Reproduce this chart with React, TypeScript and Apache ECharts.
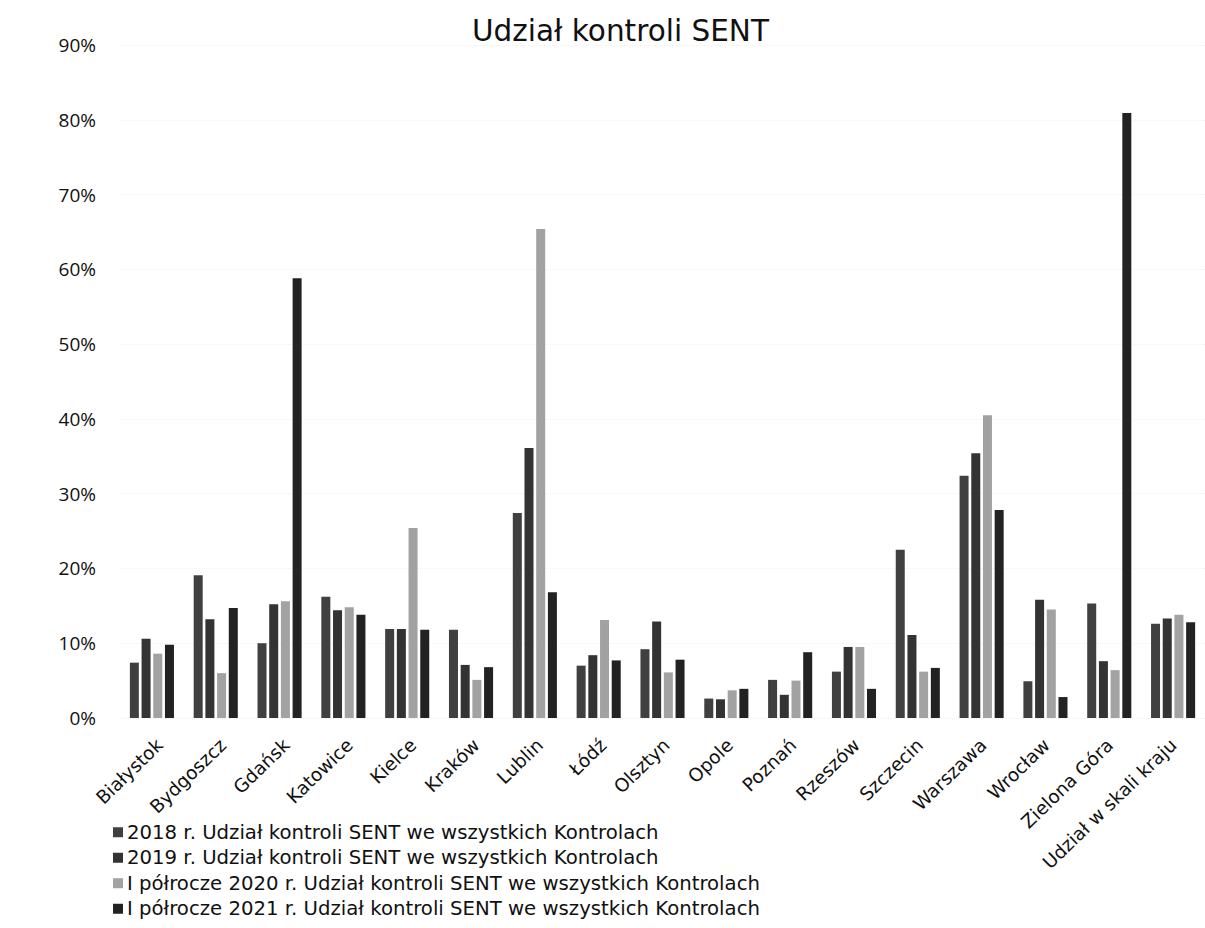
import React, { useEffect, useRef } from "react";
import * as echarts from "echarts";

const categories = [
  "Białystok", "Bydgoszcz", "Gdańsk", "Katowice", "Kielce", "Kraków", "Lublin", "Łódź",
  "Olsztyn", "Opole", "Poznań", "Rzeszów", "Szczecin", "Warszawa", "Wrocław", "Zielona Góra",
  "Udział w skali kraju",
];
const seriesNames = [
  "2018 r. Udział kontroli SENT we wszystkich Kontrolach",
  "2019 r. Udział kontroli SENT we wszystkich Kontrolach",
  "I półrocze 2020 r. Udział kontroli SENT we wszystkich Kontrolach",
  "I półrocze 2021 r. Udział kontroli SENT we wszystkich Kontrolach",
];
const s2018 = [7.4, 19.1, 10.0, 16.2, 11.9, 11.8, 27.4, 7.0, 9.2, 2.6, 5.1, 6.2, 22.5, 32.4, 4.9, 15.3, 12.6];
const s2019 = [10.6, 13.2, 15.2, 14.4, 11.9, 7.1, 36.1, 8.4, 12.9, 2.5, 3.1, 9.5, 11.1, 35.4, 15.8, 7.6, 13.3];
const s2020 = [8.6, 6.0, 15.6, 14.8, 25.4, 5.1, 65.4, 13.1, 6.1, 3.7, 5.0, 9.5, 6.2, 40.5, 14.5, 6.4, 13.8];
const s2021 = [9.8, 14.7, 58.8, 13.8, 11.8, 6.8, 16.8, 7.7, 7.8, 3.9, 8.8, 3.9, 6.7, 27.8, 2.8, 80.9, 12.8];
const seriesColors = ["#404040", "#333333", "#a2a2a2", "#222222"];

const FONT = "'Open Sans', 'Noto Sans', sans-serif";
const WIDE = "'DejaVu Sans', 'Open Sans', sans-serif";

export default function App() {
  const ref = useRef<HTMLDivElement>(null);
  useEffect(() => {
    document.body.style.margin = "0";
    const chart = echarts.init(ref.current!, null, { renderer: "svg" });
    const data = [s2018, s2019, s2020, s2021];
    chart.setOption({
      animation: false,
      backgroundColor: "#ffffff",
      title: {
        text: "Udział kontroli SENT",
        left: 472,
        top: 16,
        padding: 0,
        textStyle: { fontFamily: WIDE, fontSize: 29.5, fontWeight: "normal", color: "#111" },
      },
      legend: {
        orient: "vertical",
        left: 113,
        top: 822,
        padding: 0,
        itemWidth: 10,
        itemHeight: 10,
        itemGap: 5,
        icon: "rect",
        textStyle: { fontFamily: WIDE, fontSize: 19.7, color: "#111", lineHeight: 20.5, padding: [0, 0, 0, -1] },
        data: seriesNames,
      },
      grid: [
        { left: 120, right: -9, top: 45, bottom: 210, containLabel: false },
        { left: 128, right: -17, top: 45, bottom: 210, containLabel: false },
      ],
      xAxis: [
        {
          type: "category",
          gridIndex: 0,
          data: categories,
          axisLine: { show: false },
          axisTick: { show: false },
          axisLabel: { show: false },
        },
        {
          type: "category",
          gridIndex: 1,
          data: categories,
          axisLine: { show: false },
          axisTick: { show: false },
          axisLabel: {
            rotate: 44,
            interval: 0,
            margin: 24,
            fontFamily: WIDE,
            fontSize: 18.5,
            color: "#111",
          },
        },
      ],
      yAxis: [
        {
          type: "value",
          gridIndex: 0,
          min: 0,
          max: 90,
          interval: 10,
          axisLine: { show: false },
          axisTick: { show: false },
          splitLine: { lineStyle: { color: "#f0f0f0", type: "dotted" } },
          axisLabel: {
            formatter: "{value}%",
            margin: 24,
            fontFamily: FONT,
            fontSize: 19,
            color: "#111",
          },
        },
        {
          type: "value",
          gridIndex: 1,
          min: 0,
          max: 90,
          interval: 10,
          show: false,
        },
      ],
      series: seriesNames.map((name, i) => ({
        name,
        type: "bar",
        xAxisIndex: 0,
        yAxisIndex: 0,
        data: data[i],
        barWidth: 9,
        barGap: "30%",
        itemStyle: { color: seriesColors[i] },
      })),
    });
    return () => chart.dispose();
  }, []);
  return <div ref={ref} style={{ width: 1205, height: 928 }} />;
}
